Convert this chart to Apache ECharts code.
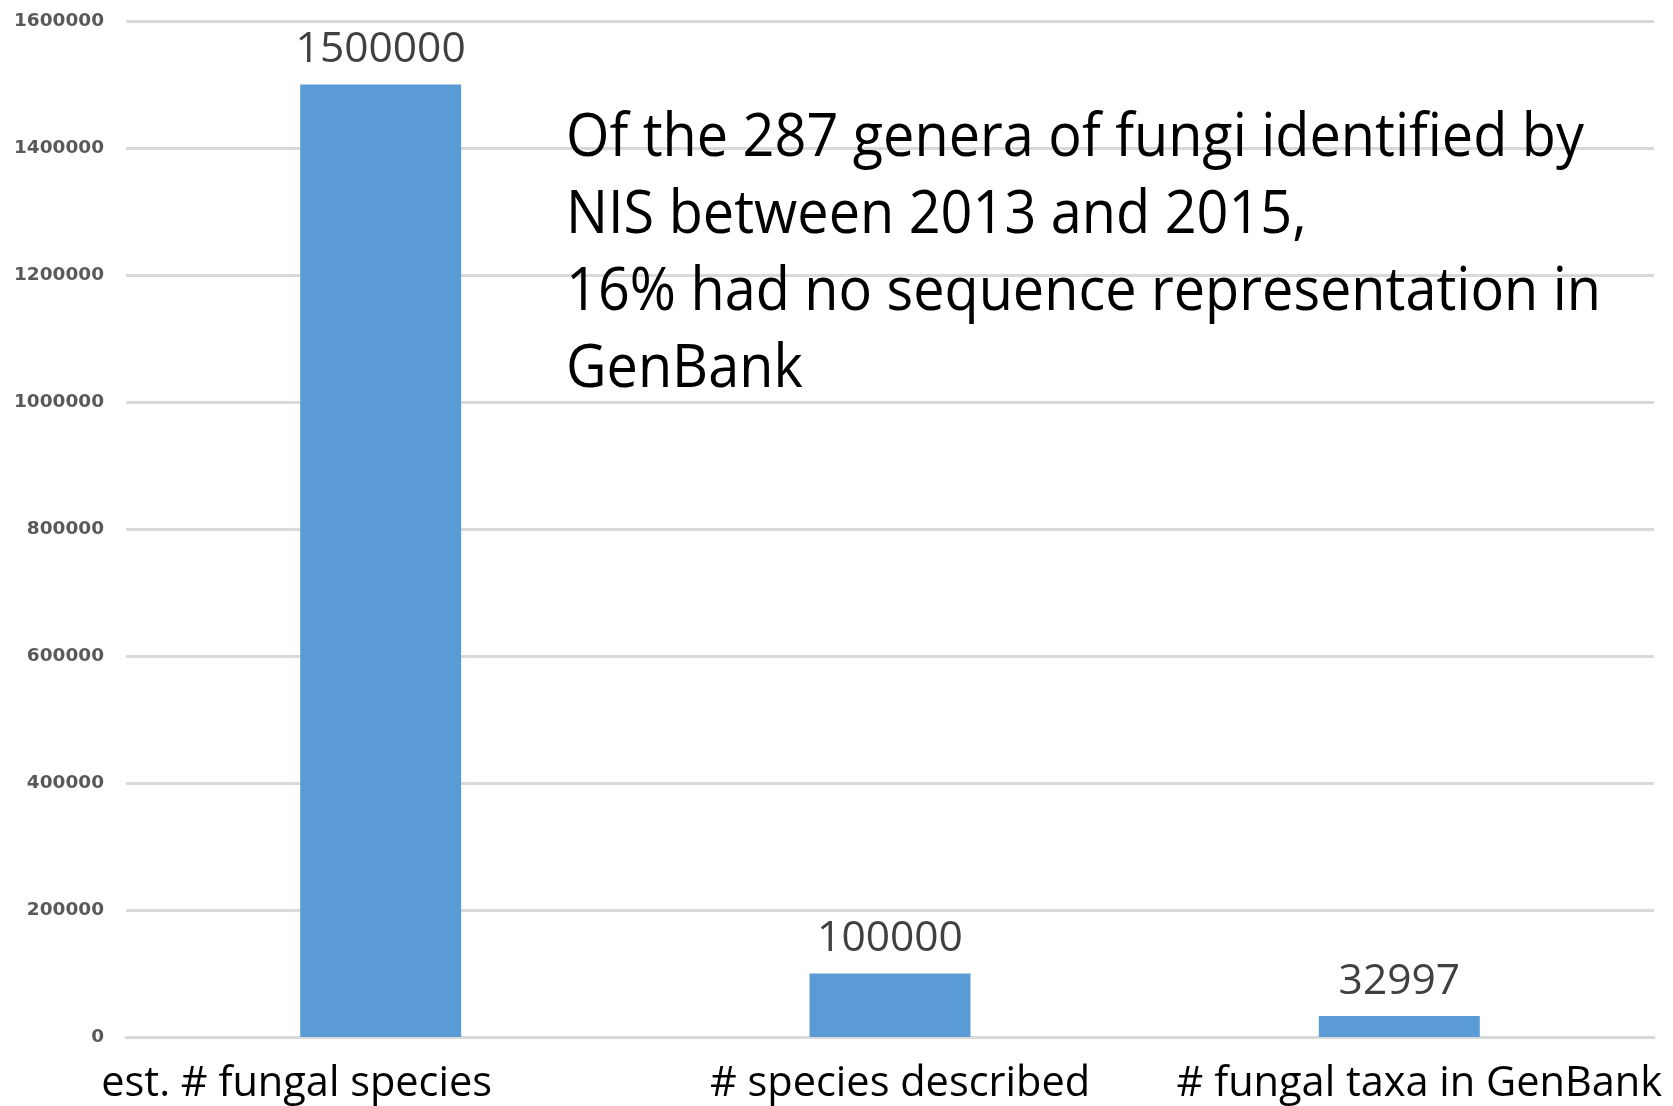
<!DOCTYPE html>
<html>
<head>
<meta charset="utf-8">
<script src="https://cdn.jsdelivr.net/npm/echarts@6/dist/echarts.min.js"></script>
<style>
  html, body { margin: 0; padding: 0; background: #ffffff; }
  #chart { width: 1673px; height: 1106px; }
</style>
</head>
<body>
<div id="chart"></div>
<script>
// Fungal diversity vs. described species vs. GenBank coverage
const categories = ['est. # fungal species', '# species described', '# fungal taxa in GenBank'];
const counts = [1500000, 100000, 32997];
const yTicks = [0, 200000, 400000, 600000, 800000, 1000000, 1200000, 1400000, 1600000];
const noteLines = [
  'Of the 287 genera of fungi identified by',
  'NIS between 2013 and 2015,',
  '16% had no sequence representation in',
  'GenBank'
];

const sans = '"Open Sans", "Noto Sans", sans-serif';
// per-category label nudges (left/right padding) so the captions sit as laid out
const labelPads = [[0, 168, 0, 0], [0, 0, 0, 20], [0, 0, 0, 40]];

const chart = echarts.init(document.getElementById('chart'), null, { renderer: 'canvas' });

chart.setOption({
  animation: false,
  backgroundColor: '#ffffff',
  graphic: [{
    type: 'text',
    left: 566,
    top: 100,
    z: 100,
    scaleX: 0.93,
    style: {
      text: noteLines.join('\n'),
      font: 'normal 60px ' + sans,
      lineHeight: 77,
      fill: '#000000'
    }
  }],
  grid: { left: 126, right: 19, top: 21, bottom: 69, containLabel: false, outerBoundsMode: 'none' },
  xAxis: {
    type: 'category',
    data: categories.map((c, i) => ({ value: c, textStyle: { padding: labelPads[i] } })),
    axisLine: { show: true, lineStyle: { color: '#d9d9d9', width: 3 } },
    axisTick: { show: false },
    axisLabel: {
      interval: 0,
      margin: 26,
      fontFamily: sans,
      fontSize: 41.5,
      color: '#000000'
    }
  },
  yAxis: {
    type: 'value',
    min: yTicks[0],
    max: yTicks[yTicks.length - 1],
    interval: yTicks[1] - yTicks[0],
    axisLine: { show: false },
    axisTick: { show: false },
    splitLine: { lineStyle: { color: '#d9d9d9', width: 3 } },
    axisLabel: {
      margin: 22,
      formatter: v => String(v),
      fontFamily: '"DejaVu Sans", sans-serif',
      fontWeight: 'bold',
      fontSize: 18.5,
      color: '#595959'
    }
  },
  series: [{
    type: 'bar',
    data: counts,
    barWidth: '31.6%',
    itemStyle: { color: '#5b9bd5' },
    label: {
      show: true,
      position: 'top',
      distance: 13,
      fontFamily: sans,
      fontSize: 42.5,
      color: '#404040'
    }
  }]
});
</script>
</body>
</html>
